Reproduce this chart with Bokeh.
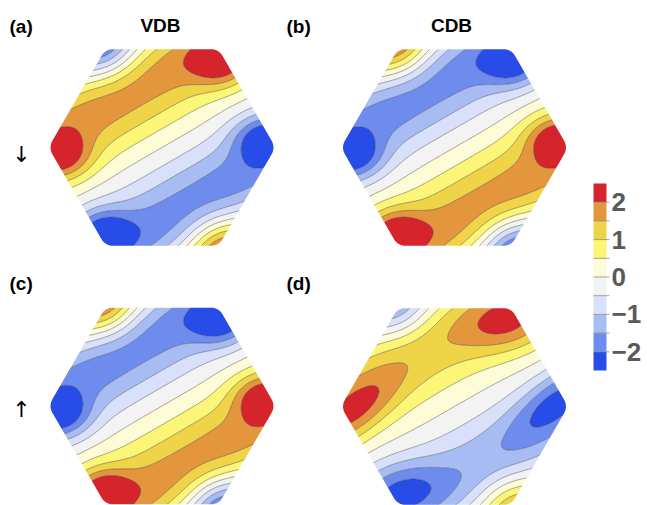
import numpy as np
from bokeh.plotting import figure
from bokeh.models import Range1d
from bokeh.core.properties import value
from bokeh.embed import file_html
from bokeh.resources import INLINE

# ---------------- data ----------------
LEVELS = [-9, -2, -1.5, -1, -0.5, 0, 0.5, 1, 1.5, 2, 9]
COLORS = ["#284ce8", "#6e8cee", "#a8bcf4", "#d8e0fa", "#f2f3f2",
          "#fefcd6", "#fcf678", "#f0d448", "#e4963c", "#d6242c"]
PANEL_LABELS = ["(a)", "(b)", "(c)", "(d)"]
COLUMN_TITLES = ["VDB", "CDB"]
ROW_ARROWS = ["\u2193", "\u2191"]
# per panel values
STRIPE_AMP = [1.65, -1.65, -1.65, 1.30]      # ridge height between the lobes
LOBE_AMP = [1.40, -1.40, -1.40, 1.10]        # extra height of the end lobes
# left lobe: centre, direction (deg), long and short widths
LOBE_LEFT = [(-0.88, -0.08), (-0.88, -0.08), (-0.88, -0.08), (-0.88, -0.06)]
LOBE_LEFT_ANGLE = [0, 0, 0, 40]
LOBE_LEFT_LONG = [0.25, 0.25, 0.25, 0.45]
LOBE_LEFT_SHORT = [0.20, 0.20, 0.20, 0.20]
# upper-right lobe
LOBE_UPRIGHT = [(0.52, 0.74), (0.52, 0.74), (0.52, 0.74), (0.50, 0.72)]
LOBE_UPRIGHT_ANGLE = [0, 0, 0, 10]
LOBE_UPRIGHT_LONG = [0.25, 0.25, 0.25, 0.40]
LOBE_UPRIGHT_SHORT = [0.20, 0.20, 0.20, 0.25]
CORNER_AMP = [1.35, -1.35, -1.35, 1.00]
CBAR_TICKS = [2, 1, 0, -1, -2]
CBAR_LABELS = ["2", "1", "0", "\u22121", "\u22122"]
CBAR_EDGES = [-2.5, -2.0, -1.5, -1.0, -0.5, 0.0, 0.5, 1.0, 1.5, 2.0, 2.5]

# ---------------- layout (page pixels) ----------------
W, H = 647, 505
R = 113.5
CENTERS = [(161.5, 147.0), (454.0, 147.0), (161.5, 405.5), (454.0, 406.0)]
KAPPA = 3.4
CORNER_W = 0.28

p = figure(width=W, height=H, x_range=Range1d(0, W), y_range=Range1d(H, 0),
           output_backend="svg", toolbar_location=None, min_border=0,
           x_axis_type=None, y_axis_type=None)
p.grid.visible = False
p.outline_line_color = None
p.background_fill_color = "white"


def lobe(X, Y, c, ang, sl, sw):
    th = np.deg2rad(ang)
    dx, dy = X - c[0], Y - c[1]
    u = dx * np.cos(th) + dy * np.sin(th)
    v = -dx * np.sin(th) + dy * np.cos(th)
    return np.exp(-(u / sl) ** 2 - (v / sw) ** 2)


def field(X, Y, k):
    s = np.sqrt(3) / 2 * X + 0.5 * Y
    t = -0.5 * X + np.sqrt(3) / 2 * Y
    x = KAPPA * t
    stripe = np.sin(x) - 0.2 * np.sin(2 * x)
    la = (LOBE_LEFT_ANGLE[k], LOBE_LEFT_LONG[k], LOBE_LEFT_SHORT[k])
    ua = (LOBE_UPRIGHT_ANGLE[k], LOBE_UPRIGHT_LONG[k], LOBE_UPRIGHT_SHORT[k])
    cl, cu = LOBE_LEFT[k], LOBE_UPRIGHT[k]
    lobes = (lobe(X, Y, cl, *la) + lobe(X, Y, cu, *ua)
             - lobe(-X, -Y, cl, *la) - lobe(-X, -Y, cu, *ua))
    corners = (-np.exp(-(s ** 2 + (t - 1.0) ** 2) / CORNER_W ** 2)
               + np.exp(-(s ** 2 + (t + 1.0) ** 2) / CORNER_W ** 2))
    return STRIPE_AMP[k] * stripe + LOBE_AMP[k] * lobes + CORNER_AMP[k] * corners


def rounded_hex(cx, cy, R, d=8.0, n=8):
    verts = [np.array([cx + R * np.cos(np.deg2rad(60 * i)), cy - R * np.sin(np.deg2rad(60 * i))])
             for i in range(6)]
    xs, ys = [], []
    for i in range(6):
        V = verts[i]
        P = verts[i - 1]
        N = verts[(i + 1) % 6]
        A = V + (P - V) / np.linalg.norm(P - V) * d
        B = V + (N - V) / np.linalg.norm(N - V) * d
        for u in np.linspace(0, 1, n):
            q = (1 - u) ** 2 * A + 2 * (1 - u) * u * V + u ** 2 * B
            xs.append(q[0])
            ys.append(q[1])
    return xs, ys


for k, (cx, cy) in enumerate(CENTERS):
    xs = np.linspace(cx - R - 2, cx + R + 2, 260)
    ys = np.linspace(cy - 0.87 * R - 2, cy + 0.87 * R + 2, 230)
    XX, YY = np.meshgrid(xs, ys)
    Z = field((XX - cx) / R, (cy - YY) / R, k)
    p.contour(x=xs, y=ys, z=Z, levels=LEVELS, fill_color=COLORS,
              line_color="#3a3a3a", line_width=0.6, line_alpha=0.75)
    hx, hy = rounded_hex(cx, cy, R)
    x0, x1 = cx - R - 6, cx + R + 6
    y0, y1 = cy - 0.87 * R - 6, cy + 0.87 * R + 6
    p.multi_polygons(xs=[[[[x0, x1, x1, x0], hx]]], ys=[[[[y0, y0, y1, y1], hy]]],
                     fill_color="white", line_color=None)

# panel labels, titles, arrows
font = value("Liberation Sans")
p.text(x=[9, 286, 9, 286], y=[26, 26, 283, 283], text=PANEL_LABELS,
       text_font=font, text_font_style="bold", text_font_size="19px",
       text_align="left", text_baseline="middle", text_color="black")
p.text(x=[160, 451], y=[25, 25], text=COLUMN_TITLES,
       text_font=font, text_font_style="bold", text_font_size="19px",
       text_align="center", text_baseline="middle", text_color="black")
p.text(x=[21, 21], y=[154, 409], text=ROW_ARROWS,
       text_font=value("DejaVu Sans"), text_font_size="22px",
       text_align="center", text_baseline="middle", text_color="black")


# colorbar
def cb_y(v):
    return 276.5 - 37.4 * v


p.quad(left=[593] * 10, right=[606] * 10,
       top=[cb_y(v) for v in CBAR_EDGES[1:]], bottom=[cb_y(v) for v in CBAR_EDGES[:-1]],
       fill_color=COLORS, line_color=None)
inner = CBAR_EDGES[1:-1]
p.segment(x0=[593] * len(inner), x1=[609] * len(inner),
          y0=[cb_y(v) for v in inner], y1=[cb_y(v) for v in inner],
          line_color="#8a8a8a", line_width=0.8)
p.text(x=[611] * 5, y=[cb_y(v) for v in CBAR_TICKS], text=CBAR_LABELS,
       text_font=font, text_font_style="bold", text_font_size="26px",
       text_align="left", text_baseline="middle", text_color="#5a5a5a")

open("out.html", "w").write(file_html(p, INLINE))
